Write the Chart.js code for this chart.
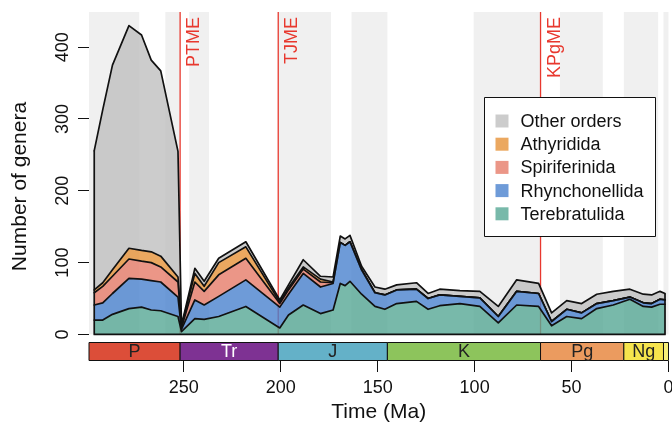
<!DOCTYPE html>
<html>
<head>
<meta charset="utf-8">
<script src="https://cdn.jsdelivr.net/npm/chart.js"></script>
<style>
  body { margin: 0; background: #fff; }
  canvas { display: block; }
</style>
</head>
<body>
<canvas id="myChart" width="672" height="428"></canvas>
<script>
// time bins (Ma) and genus counts per order
var times = [296.2, 291.8, 286.8, 278.3, 271.8, 266.8, 261.9, 253.0, 251.2, 244.3, 239.5, 232.0, 218.0,
  200.5, 196.0, 188.4, 179.5, 173.0, 169.3, 166.8, 164.3, 158.3, 151.4, 146.3, 140.2, 130.0, 124.0, 118.0,
  107.6, 97.3, 87.8, 78.3, 67.0, 60.3, 52.5, 44.8, 37.0, 28.5, 19.9, 13.0, 8.7, 4.4, 1.8];
var terebratulida = [20, 20, 28, 36, 38, 34, 33, 25, 4, 22, 21, 25, 39, 9, 27, 41, 29, 34, 71, 68, 74, 56,
  39, 35, 43, 46, 35, 40, 43, 39, 16, 41, 39, 12, 25, 22, 36, 41, 49, 39, 38, 42, 42];
var rhynchonellida = [21, 24, 29, 42, 39, 41, 40, 27, 3, 26, 20, 28, 37, 29, 29, 44, 37, 37, 57, 56, 55, 34,
  19, 20, 19, 17, 15, 15, 10, 12, 9, 19, 18, 6, 10, 8, 7, 6, 3, 5, 5, 7, 6];
var spiriferinida = [17, 23, 24, 27, 25, 25, 21, 21, 2, 25, 19, 30, 30, 5, 6, 6, 7, 1, 0, 0, 0, 0,
  0, 0, 0, 0, 0, 0, 0, 0, 0, 0, 0, 0, 0, 0, 0, 0, 0, 0, 0, 0, 0];
var athyridida = [4, 5, 9, 15, 15, 15, 15, 7, 2, 12, 7, 17, 16, 2, 3, 3, 4, 1, 0, 0, 0, 0,
  0, 0, 0, 0, 0, 0, 0, 0, 0, 0, 0, 0, 0, 0, 0, 0, 0, 0, 0, 0, 0];
var otherOrders = [194, 241, 285, 310, 300, 267, 258, 175, 2, 7, 7, 6, 7, 3, 4, 10, 4, 7, 9, 9, 9, 5,
  8, 8, 7, 9, 7, 8, 8, 9, 14, 16, 14, 12, 12, 13, 13, 13, 11, 12, 12, 11, 9];

var xTicks = [0, 50, 100, 150, 200, 250];
var yTicks = [0, 100, 200, 300, 400];

// epoch boundaries, every other interval shaded
var epochBounds = [298.9, 273.01, 259.51, 251.9, 247.2, 237, 201.3, 174.1, 163.5, 145, 100.5, 66,
  56, 33.9, 23.03, 5.333, 2.58, 0.0117, 0];

var periodNames = ['P', 'Tr', 'J', 'K', 'Pg', 'Ng', ''];
var periodStart = [298.9, 251.9, 201.3, 145, 66, 23.03, 2.58];
var periodEnd = [251.9, 201.3, 145, 66, 23.03, 2.58, 0];
var periodColors = ['#dc4e39', '#7e3293', '#64b1c8', '#8dc45c', '#eb9b5f', '#f6e44d', '#f8ef78'];
var periodText = ['#222', '#fff', '#222', '#222', '#222', '#222', '#222'];

var extinctionNames = ['PTME', 'TJME', 'KPgME'];
var extinctionTimes = [251.9, 201.3, 66];

var FONT = "'Liberation Sans', Arial, Helvetica, sans-serif";
Chart.defaults.font.family = FONT;
Chart.defaults.color = '#111';

function layer(label, values, color, fill) {
  return {
    label: label,
    data: times.map(function(t, i) { return {x: t, y: values[i]}; }),
    backgroundColor: color,
    borderColor: '#111',
    borderWidth: 1.7,
    borderJoinStyle: 'round',
    borderCapStyle: 'round',
    pointRadius: 0,
    tension: 0,
    fill: fill
  };
}

function total(i) {
  return terebratulida[i] + rhynchonellida[i] + spiriferinida[i] + athyridida[i] + otherOrders[i];
}

var decor = {
  id: 'decor',
  beforeDatasetsDraw: function(chart) {
    var ctx = chart.ctx, xs = chart.scales.x, ys = chart.scales.y, area = chart.chartArea;
    var y0 = ys.getPixelForValue(0);
    ctx.save();
    ctx.fillStyle = '#f0f0f0';
    for (var i = 0; i < epochBounds.length - 1; i += 2) {
      var xa = xs.getPixelForValue(epochBounds[i]);
      var xb = xs.getPixelForValue(epochBounds[i + 1]);
      ctx.fillRect(xa, area.top, xb - xa, y0 - area.top);
    }
    ctx.strokeStyle = '#e8382e';
    ctx.lineWidth = 1.3;
    extinctionTimes.forEach(function(t) {
      var x = xs.getPixelForValue(t);
      ctx.beginPath();
      ctx.moveTo(x, area.top);
      ctx.lineTo(x, y0);
      ctx.stroke();
    });
    ctx.restore();
  },
  afterDatasetsDraw: function(chart) {
    var ctx = chart.ctx, xs = chart.scales.x, ys = chart.scales.y, area = chart.chartArea;
    var y0 = ys.getPixelForValue(0);
    var last = times.length - 1;
    ctx.save();

    // closing edges of the stacked polygon
    ctx.strokeStyle = '#111';
    ctx.lineWidth = 1.7;
    ctx.lineJoin = 'round';
    ctx.beginPath();
    ctx.moveTo(xs.getPixelForValue(times[0]), ys.getPixelForValue(total(0)));
    ctx.lineTo(xs.getPixelForValue(times[0]), y0);
    ctx.lineTo(xs.getPixelForValue(times[last]), y0);
    ctx.lineTo(xs.getPixelForValue(times[last]), ys.getPixelForValue(total(last)));
    ctx.stroke();

    // extinction labels
    ctx.fillStyle = '#e8382e';
    ctx.font = '18px ' + FONT;
    ctx.textAlign = 'right';
    ctx.textBaseline = 'middle';
    extinctionTimes.forEach(function(t, i) {
      ctx.save();
      ctx.translate(xs.getPixelForValue(t) + 14, area.top + 5);
      ctx.rotate(-Math.PI / 2);
      ctx.fillText(extinctionNames[i], 0, 0);
      ctx.restore();
    });

    // geological period bar
    var barTop = Math.round(ys.getPixelForValue(-10)) + 0.5;
    var barBot = Math.round(area.bottom) - 0.5;
    ctx.lineWidth = 1;
    ctx.textAlign = 'center';
    periodNames.forEach(function(name, i) {
      var xa = xs.getPixelForValue(periodStart[i]);
      var xb = xs.getPixelForValue(periodEnd[i]);
      ctx.fillStyle = periodColors[i];
      ctx.fillRect(xa, barTop, xb - xa, barBot - barTop);
      ctx.strokeStyle = '#111';
      ctx.strokeRect(xa, barTop, xb - xa, barBot - barTop);
      if (name) {
        ctx.fillStyle = periodText[i];
        ctx.fillText(name, (xa + xb) / 2, (barTop + barBot) / 2 + 1);
      }
    });

    // legend
    var items = chart.data.datasets.slice().reverse();
    var lx = 484.5, ly = 97.5, lw = 171, lh = 139;
    ctx.fillStyle = '#fff';
    ctx.fillRect(lx, ly, lw, lh);
    ctx.strokeStyle = '#111';
    ctx.strokeRect(lx, ly, lw, lh);
    ctx.textAlign = 'left';
    ctx.font = '18px ' + FONT;
    items.forEach(function(ds, i) {
      var cy = ly + 23.5 + i * 23.2;
      ctx.fillStyle = ds.backgroundColor;
      ctx.fillRect(lx + 11, cy - 6.5, 13, 13);
      ctx.fillStyle = '#111';
      ctx.fillText(ds.label, lx + 36, cy + 1);
    });
    ctx.restore();
  }
};

var myChart = new Chart('myChart', {
  type: 'line',
  data: {
    datasets: [
      layer('Terebratulida', terebratulida, 'rgba(86,168,149,0.8)', 'origin'),
      layer('Rhynchonellida', rhynchonellida, 'rgba(74,130,206,0.8)', '-1'),
      layer('Spiriferinida', spiriferinida, 'rgba(230,124,105,0.8)', '-1'),
      layer('Athyridida', athyridida, 'rgba(230,146,56,0.8)', '-1'),
      layer('Other orders', otherOrders, 'rgba(191,191,191,0.8)', '-1')
    ]
  },
  options: {
    responsive: false,
    devicePixelRatio: 1,
    animation: false,
    layout: {padding: {top: 12, right: 3.5, bottom: 0, left: 0}},
    plugins: {legend: {display: false}, tooltip: {enabled: false}},
    scales: {
      x: {
        type: 'linear',
        reverse: true,
        min: 0,
        max: 298.9,
        afterBuildTicks: function(s) { s.ticks = xTicks.map(function(v) { return {value: v}; }); },
        afterFit: function(s) { s.height = 67; },
        grid: {drawOnChartArea: false, drawTicks: true, tickLength: 11, color: '#111', lineWidth: 1},
        border: {display: false},
        ticks: {font: {size: 18}, padding: 5, maxRotation: 0, autoSkip: false, color: '#111'},
        title: {display: true, text: 'Time (Ma)', font: {size: 21}, padding: {top: 0, bottom: 3}, color: '#111'}
      },
      y: {
        stacked: true,
        min: -37,
        max: 449,
        afterBuildTicks: function(s) { s.ticks = yTicks.map(function(v) { return {value: v}; }); },
        afterFit: function(s) { s.width = 89; },
        grid: {drawOnChartArea: false, drawTicks: true, tickLength: 11, color: '#111', lineWidth: 1},
        border: {display: false},
        ticks: {font: {size: 18}, padding: 0, minRotation: 90, maxRotation: 90, crossAlign: 'center', color: '#111'},
        title: {display: true, text: 'Number of genera', font: {size: 21}, padding: {top: 8, bottom: 0}, color: '#111'}
      }
    }
  },
  plugins: [decor]
});
</script>
</body>
</html>
